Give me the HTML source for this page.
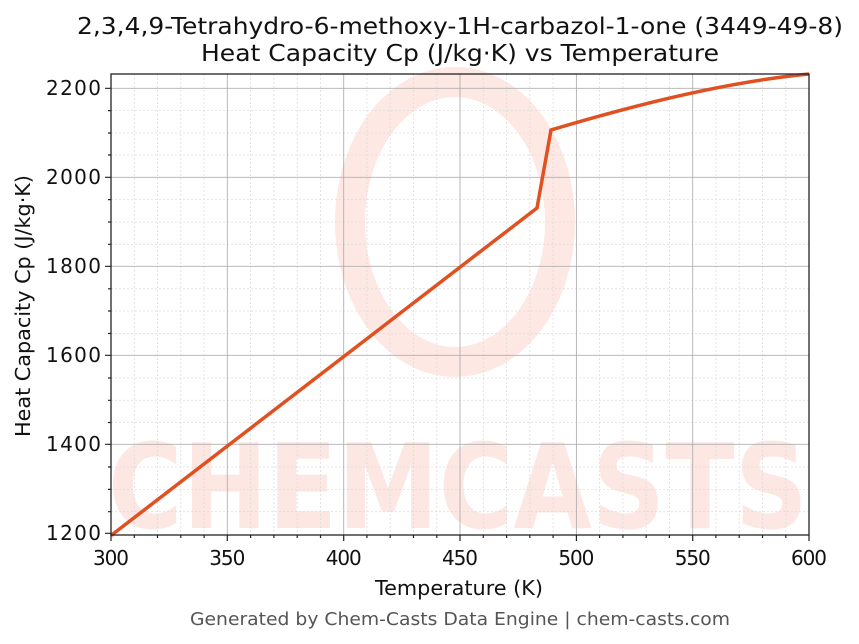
<!DOCTYPE html>
<html><head><meta charset="utf-8"><style>body{margin:0;background:#fff}svg{display:block}text{font-family:"DejaVu Sans","Liberation Sans",sans-serif}</style></head><body>
<svg width="859" height="644" xmlns="http://www.w3.org/2000/svg">
<rect width="859" height="644" fill="#fff"/>
<g opacity="0.12" fill="#f04020">
<ellipse cx="455" cy="222" rx="105" ry="140" fill="none" stroke="#f04020" stroke-width="30"/>
<text x="458" y="528" font-size="118" font-weight="bold" text-anchor="middle" textLength="700" lengthAdjust="spacingAndGlyphs" font-family="Liberation Serif,serif">CHEMCASTS</text>
</g>
<g stroke="#ddd" stroke-width="0.8" stroke-dasharray="2,2">
<path d="M134.3 74V535M157.5 74V535M180.8 74V535M204.1 74V535M250.6 74V535M273.9 74V535M297.2 74V535M320.5 74V535M366.9 74V535M390.2 74V535M413.5 74V535M436.8 74V535M483.3 74V535M506.6 74V535M529.8 74V535M553.1 74V535M599.6 74V535M622.9 74V535M646.2 74V535M669.4 74V535M715.9 74V535M739.2 74V535M762.5 74V535M785.8 74V535"/>
<path d="M111 110.6H809M111 133H809M111 155H809M111 199.6H809M111 222H809M111 244.3H809M111 288.8H809M111 311H809M111 333.5H809M111 378H809M111 400.3H809M111 422.5H809M111 467H809M111 489.4H809M111 511.7H809"/>
</g>
<g stroke="#b0b0b0" stroke-width="0.9">
<path d="M227.3 74V535M343.7 74V535M460 74V535M576.4 74V535M692.7 74V535"/>
<path d="M111 88.3H809M111 177.3H809M111 266.3H809M111 355.3H809M111 444.3H809"/>
</g>
<path d="M111 535.5L537 208L551 130Q704 84 809 74" fill="none" stroke="#e05020" stroke-width="3.5"/>
<rect x="111" y="74" width="698" height="461" fill="none" stroke="#222" stroke-width="1.3"/>
<g stroke="#222" stroke-width="1.2">
<path d="M111 535v6M227.3 535v6M343.7 535v6M460 535v6M576.4 535v6M692.7 535v6M809 535v6"/>
<path d="M111 88.3h-6M111 177.3h-6M111 266.3h-6M111 355.3h-6M111 444.3h-6M111 533.3h-6"/>
<path d="M134.3 535v3M157.5 535v3M180.8 535v3M204.1 535v3M250.6 535v3M273.9 535v3M297.2 535v3M320.5 535v3M366.9 535v3M390.2 535v3M413.5 535v3M436.8 535v3M483.3 535v3M506.6 535v3M529.8 535v3M553.1 535v3M599.6 535v3M622.9 535v3M646.2 535v3M669.4 535v3M715.9 535v3M739.2 535v3M762.5 535v3M785.8 535v3"/>
<path d="M111 110.6h-3M111 133h-3M111 155h-3M111 199.6h-3M111 222h-3M111 244.3h-3M111 288.8h-3M111 311h-3M111 333.5h-3M111 378h-3M111 400.3h-3M111 422.5h-3M111 467h-3M111 489.4h-3M111 511.7h-3"/>
</g>
<g font-size="20" fill="#111" text-anchor="middle" lengthAdjust="spacingAndGlyphs">
<text x="111" y="565" textLength="36">300</text><text x="227.3" y="565" textLength="36">350</text><text x="343.7" y="565" textLength="36">400</text><text x="460" y="565" textLength="36">450</text><text x="576.4" y="565" textLength="36">500</text><text x="692.7" y="565" textLength="36">550</text><text x="809" y="565" textLength="36">600</text>
</g>
<g font-size="20" fill="#111" text-anchor="end">
<text x="101" y="95" textLength="55">2200</text><text x="101" y="184" textLength="55">2000</text><text x="101" y="273" textLength="55">1800</text><text x="101" y="362" textLength="55">1600</text><text x="101" y="451" textLength="55">1400</text><text x="101" y="540" textLength="55">1200</text>
</g>
<text x="375" y="595" font-size="20" textLength="168" lengthAdjust="spacingAndGlyphs" fill="#111">Temperature (K)</text>
<text transform="translate(30,437) rotate(-90)" font-size="20" textLength="262" lengthAdjust="spacingAndGlyphs" fill="#111">Heat Capacity Cp (J/kg·K)</text>
<text x="77" y="34" font-size="23" textLength="766" lengthAdjust="spacingAndGlyphs" fill="#111">2,3,4,9-Tetrahydro-6-methoxy-1H-carbazol-1-one (3449-49-8)</text>
<text x="201" y="61" font-size="23" textLength="518" lengthAdjust="spacingAndGlyphs" fill="#111">Heat Capacity Cp (J/kg·K) vs Temperature</text>
<text x="190" y="625" font-size="18" textLength="540" lengthAdjust="spacingAndGlyphs" fill="#555">Generated by Chem-Casts Data Engine | chem-casts.com</text>
</svg>
</body></html>
